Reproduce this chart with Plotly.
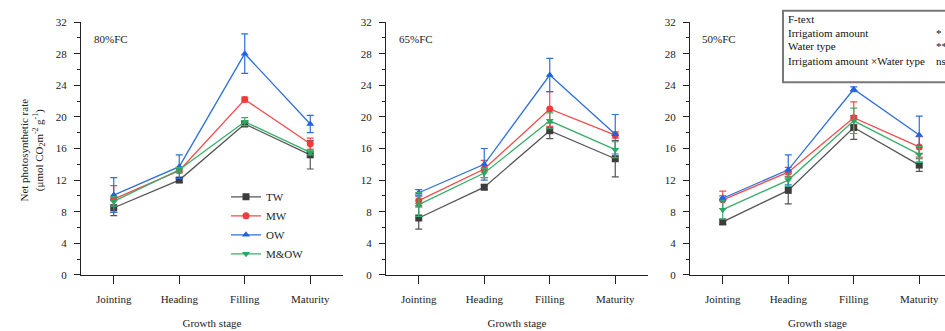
import plotly.graph_objects as go

stages = ["Jointing", "Heading", "Filling", "Maturity"]
series_names = ["TW", "MW", "OW", "M&OW"]
panel_labels = ["80%FC", "65%FC", "50%FC"]

# values per panel
p80_TW = [8.5, 12.0, 19.1, 15.2]
p80_MW = [9.6, 13.2, 22.2, 16.6]
p80_OW = [10.1, 13.7, 28.0, 19.1]
p80_MOW = [9.3, 13.3, 19.4, 15.5]
p80_TW_err = [1.0, 0.3, 0.3, 1.8]
p80_MW_err = [1.7, 0.3, 0.3, 0.7]
p80_OW_err = [2.2, 1.5, 2.5, 1.1]
p80_MOW_err = [0.6, 0.3, 0.5, 0.3]

p65_TW = [7.2, 11.1, 18.25, 14.7]
p65_MW = [9.4, 13.4, 21.0, 17.7]
p65_OW = [10.4, 14.0, 25.3, 17.8]
p65_MOW = [8.9, 12.9, 19.5, 15.85]
p65_TW_err = [1.4, 0.3, 1.0, 2.3]
p65_MW_err = [0.6, 1.1, 2.2, 0.4]
p65_OW_err = [0.4, 2.0, 2.1, 2.5]
p65_MOW_err = [1.5, 0.6, 1.0, 1.0]

p50_TW = [6.7, 10.7, 18.65, 13.9]
p50_MW = [9.5, 13.0, 19.9, 16.2]
p50_OW = [9.7, 13.3, 23.5, 17.7]
p50_MOW = [8.25, 12.0, 19.5, 15.25]
p50_TW_err = [0.3, 1.7, 1.5, 0.8]
p50_MW_err = [1.1, 0.6, 2.0, 1.3]
p50_OW_err = [0.3, 1.9, 0.3, 2.4]
p50_MOW_err = [1.2, 0.8, 1.6, 1.0]

ftext_rows = ["F-text", "Irrigatiom amount", "Water type", "Irrigatiom amount ×Water type"]
ftext_sig = ["", "*", "**", "ns"]

panels = [
    ([p80_TW, p80_MW, p80_OW, p80_MOW], [p80_TW_err, p80_MW_err, p80_OW_err, p80_MOW_err]),
    ([p65_TW, p65_MW, p65_OW, p65_MOW], [p65_TW_err, p65_MW_err, p65_OW_err, p65_MOW_err]),
    ([p50_TW, p50_MW, p50_OW, p50_MOW], [p50_TW_err, p50_MW_err, p50_OW_err, p50_MOW_err]),
]

line_colors = ["#555555", "#f24a4a", "#2f6fdc", "#3aaf6a"]
marker_colors = ["#3c3c3c", "#f23a3a", "#1f63de", "#2aa860"]
symbols = ["square", "circle", "triangle-up", "triangle-down"]

W, H = 945, 331
FONT = "Liberation Serif"

fig = go.Figure()

for pi, (vals, errs) in enumerate(panels):
    xa = "x" if pi == 0 else f"x{pi+1}"
    ya = "y" if pi == 0 else f"y{pi+1}"
    for si in range(4):
        fig.add_trace(go.Scatter(
            x=stages, y=vals[si], name=series_names[si],
            mode="lines+markers",
            line=dict(color=line_colors[si], width=1.3),
            marker=dict(symbol=symbols[si], size=7, color=marker_colors[si]),
            error_y=dict(type="data", array=errs[si], visible=True,
                         color=line_colors[si], thickness=1.2, width=3.5),
            xaxis=xa, yaxis=ya, showlegend=(pi == 0),
        ))

# axis geometry (pixels)
y_top, y_bot = 16.7, 279
ydom = [1 - y_bot / H, 1 - y_top / H]
xdoms = [(81, 343), (386, 648), (690, 945)]
spacing = (343 - 81) / 4.0

common_x = dict(
    type="category", showline=True, linecolor="#222", linewidth=1.2,
    ticks="outside", ticklen=8, tickcolor="#222", tickwidth=1.2,
    ticklabelstandoff=6,
    showgrid=False, zeroline=False,
    tickfont=dict(family=FONT, size=11, color="#222"),
    title=dict(text="Growth stage", font=dict(family=FONT, size=11, color="#222"), standoff=15),
)
common_y = dict(
    range=[0, 32], tickvals=[0, 4, 8, 12, 16, 20, 24, 28, 32],
    showline=True, linecolor="#222", linewidth=1.2,
    ticks="outside", ticklen=6, tickcolor="#222", tickwidth=1.2,
    ticklabelstandoff=5,
    minor=dict(dtick=2, ticks="outside", ticklen=3, tickcolor="#222", tickwidth=1),
    showgrid=False, zeroline=False,
    tickfont=dict(family=FONT, size=11, color="#222"),
)

layout = {}
for pi, (a, b) in enumerate(xdoms):
    xk = "xaxis" if pi == 0 else f"xaxis{pi+1}"
    yk = "yaxis" if pi == 0 else f"yaxis{pi+1}"
    rng_end = -0.5 + (b - a) / spacing
    xd = dict(common_x, domain=[a / W, b / W], range=[-0.5, rng_end],
              anchor="y" if pi == 0 else f"y{pi+1}")
    yd = dict(common_y, domain=ydom, anchor="x" if pi == 0 else f"x{pi+1}")
    layout[xk] = xd
    layout[yk] = yd

fig.update_layout(**layout)

annotations = []
label_x = [92, 397, 700]
for pi, lab in enumerate(panel_labels):
    annotations.append(dict(x=label_x[pi] / W, y=1 - 34 / H, xref="paper", yref="paper",
                            text=lab, showarrow=False, xanchor="left", yanchor="middle",
                            font=dict(family=FONT, size=11, color="#222")))
# y axis title
annotations.append(dict(x=33 / W, y=1 - 150 / H, xref="paper", yref="paper",
                        text="Net photosynthetic rate<br>(μmol CO<sub>2</sub>m<sup>-2</sup> g<sup>-1</sup>)",
                        showarrow=False, textangle=-90, xanchor="center", yanchor="middle",
                        font=dict(family=FONT, size=11, color="#222")))
# F-text table
row_y = [14, 28, 42, 57]
for i, t in enumerate(ftext_rows):
    annotations.append(dict(x=786 / W, y=1 - row_y[i] / H, xref="paper", yref="paper",
                            text=t, showarrow=False, xanchor="left", yanchor="middle",
                            font=dict(family=FONT, size=11, color="#111")))
    if ftext_sig[i]:
        annotations.append(dict(x=934 / W, y=1 - row_y[i] / H, xref="paper", yref="paper",
                                text=ftext_sig[i], showarrow=False, xanchor="left", yanchor="middle",
                                font=dict(family=FONT, size=11, color="#111")))

shapes = [dict(type="rect", xref="paper", yref="paper",
               x0=783 / W, x1=1.02, y0=1 - 79 / H, y1=1 - 5 / H,
               line=dict(color="#777", width=2), fillcolor="rgba(0,0,0,0)")]

fig.update_layout(
    width=W, height=H, margin=dict(l=0, r=0, t=0, b=0),
    paper_bgcolor="white", plot_bgcolor="white",
    annotations=annotations, shapes=shapes,
    legend=dict(x=226 / W, y=1 - 183 / H, xanchor="left", yanchor="top",
                font=dict(family=FONT, size=11, color="#222"),
                bgcolor="rgba(0,0,0,0)", tracegroupgap=0, itemwidth=30),
)

fig.write_html("out.html")
